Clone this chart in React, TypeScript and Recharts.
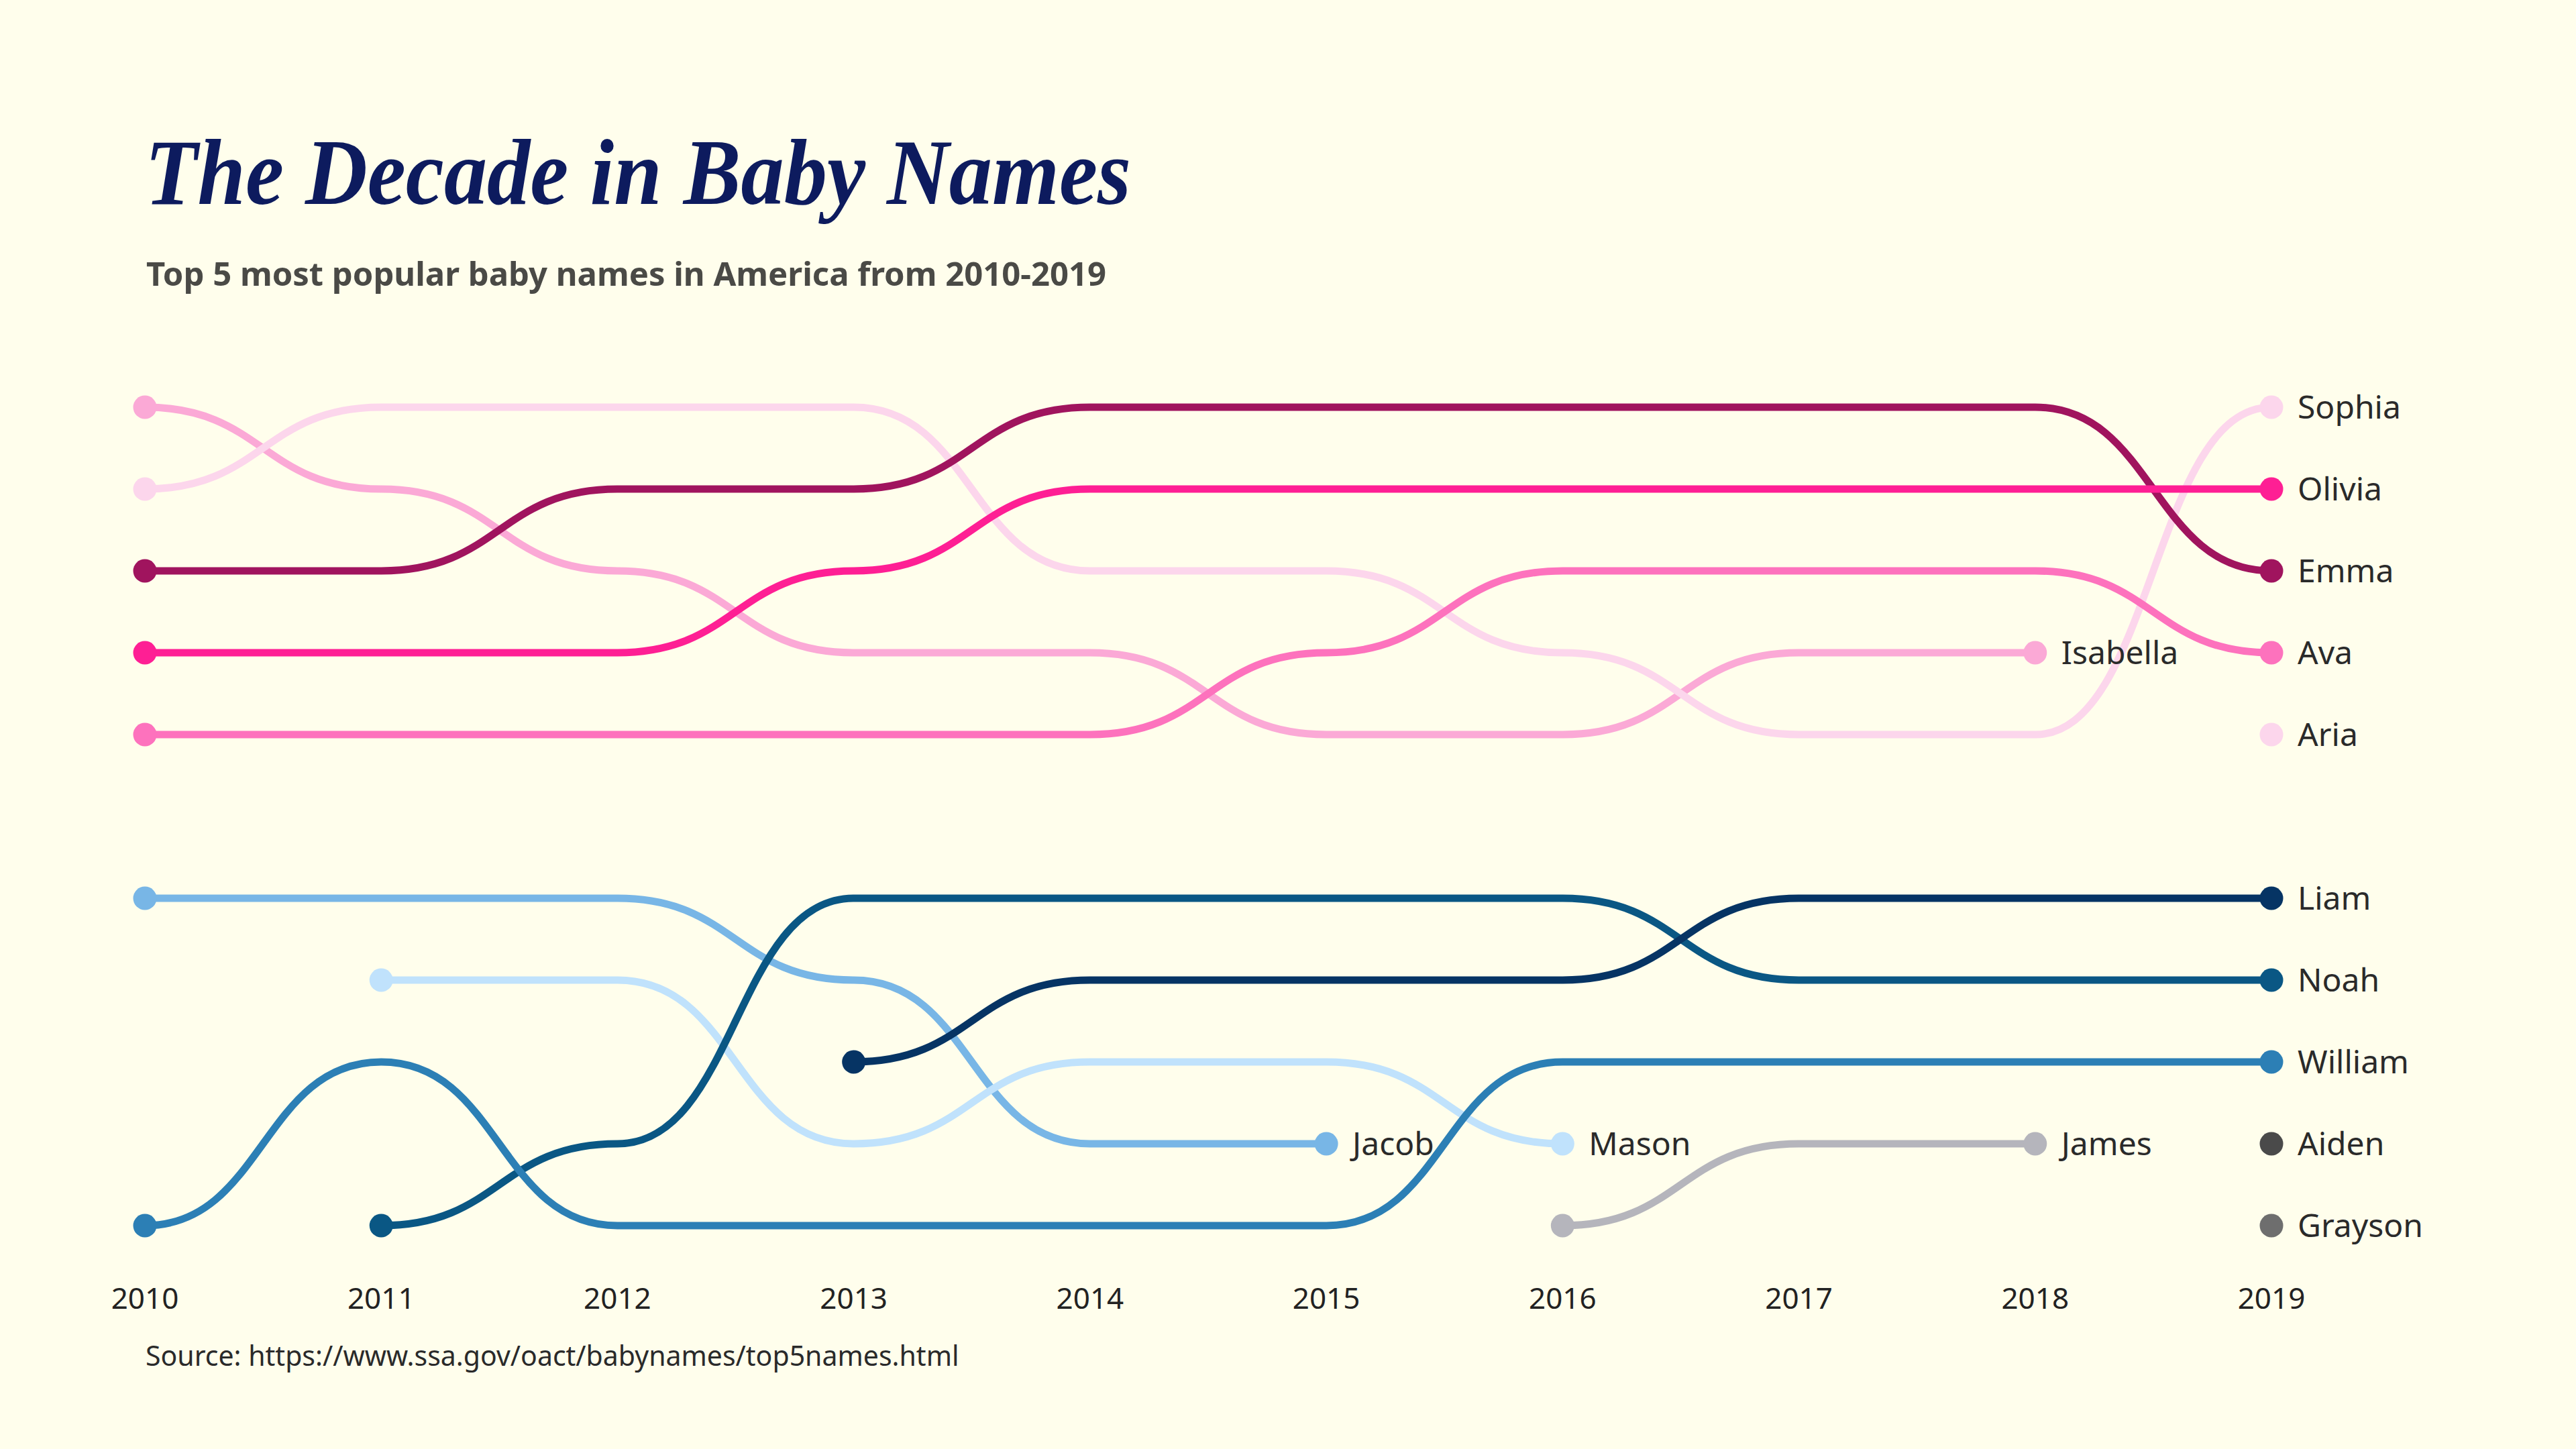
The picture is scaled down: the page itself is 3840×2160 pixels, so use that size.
import { LineChart, Line, XAxis, YAxis } from 'recharts'

const years = [2010, 2011, 2012, 2013, 2014, 2015, 2016, 2017, 2018, 2019]

// girls ranks (1-5)
const isabella = [1, 2, 3, 4, 4, 5, 5, 4, 4, null]
const sophia = [2, 1, 1, 1, 3, 3, 4, 5, 5, 1]
const emma = [3, 3, 2, 2, 1, 1, 1, 1, 1, 3]
const olivia = [4, 4, 4, 3, 2, 2, 2, 2, 2, 2]
const ava = [5, 5, 5, 5, 5, 4, 3, 3, 3, 4]
const aria = [null, null, null, null, null, null, null, null, null, 5]

// boys ranks (1-5)
const jacob = [1, 1, 1, 2, 4, 4, null, null, null, null]
const mason = [null, 2, 2, 4, 3, 3, 4, null, null, null]
const noah = [null, 5, 4, 1, 1, 1, 1, 2, 2, 2]
const liam = [null, null, null, 3, 2, 2, 2, 1, 1, 1]
const william = [5, 3, 5, 5, 5, 5, 3, 3, 3, 3]
const james = [null, null, null, null, null, null, 5, 4, 4, null]
const aiden = [null, null, null, null, null, null, null, null, null, 4]
const grayson = [null, null, null, null, null, null, null, null, null, 5]

type Rank = number | null

interface Series {
    name: string
    values: Rank[]
    color: string
    boys?: boolean
}

const SERIES: Series[] = [
    { name: 'Isabella', values: isabella, color: '#fba9d6' },
    { name: 'Sophia', values: sophia, color: '#fcd6ec' },
    { name: 'Emma', values: emma, color: '#a0145e' },
    { name: 'Olivia', values: olivia, color: '#fe1f94' },
    { name: 'Ava', values: ava, color: '#fd72bd' },
    { name: 'Aria', values: aria, color: '#fcd6ec' },
    { name: 'Jacob', values: jacob, color: '#78b6e6', boys: true },
    { name: 'Mason', values: mason, color: '#c0e2fc', boys: true },
    { name: 'Noah', values: noah, color: '#0a5784', boys: true },
    { name: 'Liam', values: liam, color: '#063464', boys: true },
    { name: 'William', values: william, color: '#2c7fb5', boys: true },
    { name: 'James', values: james, color: '#b5b5bc', boys: true },
    { name: 'Aiden', values: aiden, color: '#4a4a4a', boys: true },
    { name: 'Grayson', values: grayson, color: '#6e6e6e', boys: true },
]

// boys sit below the girls, one empty slot between the groups
const BOYS_OFFSET = 6

const chartData = years.map((year, i) => {
    const row: Record<string, number | null> = { year }
    SERIES.forEach((s) => {
        const v = s.values[i]
        row[s.name] = v == null ? null : s.boys ? v + BOYS_OFFSET : v
    })
    return row
})

const LABEL_FONT = '"Noto Sans", "Open Sans", sans-serif'

function makeDot(s: Series) {
    const first = s.values.findIndex((v) => v != null)
    let last = -1
    s.values.forEach((v, i) => {
        if (v != null) last = i
    })
    return (props: any) => {
        const { cx, cy, index } = props
        const key = `${s.name}-${index}`
        if (cy == null || cx == null || (index !== first && index !== last)) {
            return <g key={key} />
        }
        return (
            <g key={key}>
                <circle cx={cx} cy={cy} r={17.5} fill={s.color} />
                {index === last && (
                    <text
                        x={cx + 39}
                        y={cy + 17}
                        fill="#2a2a2a"
                        fontSize={48}
                        fontFamily={LABEL_FONT}
                    >
                        {s.name}
                    </text>
                )}
            </g>
        )
    }
}

export default function App() {
    return (
        <div
            style={{
                position: 'absolute',
                left: 0,
                top: 0,
                width: 3840,
                height: 2160,
                background: '#fffeec',
                overflow: 'hidden',
            }}
        >
            <svg width={3840} height={2160} style={{ position: 'absolute', left: 0, top: 0 }}>
                <text
                    x={216}
                    y={304}
                    fill="#0d1b5e"
                    fontSize={140}
                    fontWeight="bold"
                    fontStyle="italic"
                    fontFamily='"Liberation Serif", "DejaVu Serif", serif'
                    textLength={1470}
                    lengthAdjust="spacingAndGlyphs"
                >
                    The Decade in Baby Names
                </text>
                <text
                    x={218}
                    y={426}
                    fill="#4a4a46"
                    fontSize={48}
                    fontWeight="bold"
                    fontFamily={LABEL_FONT}
                    textLength={1431}
                    lengthAdjust="spacingAndGlyphs"
                >
                    Top 5 most popular baby names in America from 2010-2019
                </text>
                <text x={217} y={2036} fill="#2a2a2a" fontSize={41} fontFamily={LABEL_FONT}>
                    Source: https://www.ssa.gov/oact/babynames/top5names.html
                </text>
            </svg>
            <div style={{ position: 'absolute', left: 0, top: 0 }}>
                <LineChart
                    width={3840}
                    height={2160}
                    data={chartData}
                    margin={{ top: 607, right: 454, bottom: 233, left: 216 }}
                >
                    <XAxis
                        dataKey="year"
                        type="number"
                        domain={[2010, 2019]}
                        ticks={years}
                        axisLine={false}
                        tickLine={false}
                        tickSize={0}
                        tickMargin={93}
                        height={100}
                        tick={{ fill: '#222', fontSize: 44, fontFamily: LABEL_FONT }}
                        interval={0}
                    />
                    <YAxis hide type="number" domain={[1, 11]} reversed />
                    {SERIES.map((s) => (
                        <Line
                            key={s.name}
                            type="bumpX"
                            dataKey={s.name}
                            stroke={s.color}
                            strokeWidth={11}
                            dot={makeDot(s)}
                            activeDot={false}
                            connectNulls={false}
                            isAnimationActive={false}
                        />
                    ))}
                </LineChart>
            </div>
        </div>
    )
}
